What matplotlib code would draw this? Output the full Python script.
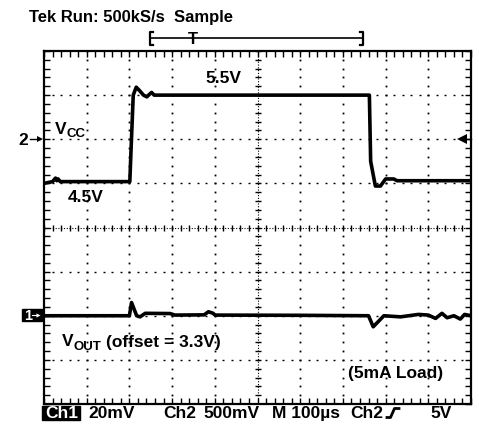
import numpy as np
import matplotlib.pyplot as plt
from matplotlib.lines import Line2D
from matplotlib.patches import Rectangle

plt.rcParams['font.family'] = ['Liberation Sans', 'DejaVu Sans']
plt.rcParams['font.weight'] = 'bold'

# scope settings
T_DIV = 100.0      # us / div
VCC_DIV = 0.5      # V / div (Ch2)
VOUT_DIV = 20.0    # mV / div (Ch1)
VCC_REF = 4.5      # level sitting on +1 div
VCC_POS = 1.0
VOUT_POS = -2.0    # Ch1 marker position (div)

# Ch2: Vcc step 4.5V -> 5.5V -> 4.5V
vcc_t = [0, 20, 27, 30, 33, 38, 201, 204, 209, 216, 224, 233, 241, 247, 252, 258,
         762, 765, 776, 788, 800, 819, 827, 1000]
vcc_v = [4.50, 4.52, 4.56, 4.53, 4.55, 4.52, 4.52, 4.90, 5.50, 5.59, 5.55, 5.50, 5.48, 5.51, 5.53, 5.50,
         5.50, 4.75, 4.47, 4.47, 4.55, 4.55, 4.53, 4.53]

# Ch1: Vout deviation from 3.3V offset, mV
vout_t = [0, 200, 205, 217, 225, 237, 295, 307, 375, 385, 395, 401, 600, 760, 771, 796,
          835, 877, 900, 917, 932, 944, 960, 975, 985, 1000]
vout_mv = [0, 0, 6.0, 0, -0.5, 1.1, 1.0, 0.3, 0.4, 1.8, 1.2, 0.3, 0.2, 0, -5.0, 0,
           -0.5, 0.6, 0.3, -1.2, 1.1, -0.9, 0, -1.5, 0.6, 0]

W, H = 479, 425


def fx(x):
    return x / W


def fy(y):
    return 1 - y / H


fig = plt.figure(figsize=(W / 100, H / 100), dpi=100)
ax = fig.add_axes([fx(44), fy(404), 427 / W, 353 / H])
ax.set_xlim(0, 10)
ax.set_ylim(-4, 4)
for s in ax.spines.values():
    s.set_linewidth(1.6)
ax.set_xticks(np.arange(0, 10.001, 0.2))
ax.set_yticks(np.arange(-4, 4.001, 0.2))
ax.tick_params(direction='in', length=4, width=1, top=True, right=True,
               labelbottom=False, labelleft=False)

# graticule
xs = np.arange(0, 10.001, 0.2)
ys = np.arange(-4, 4.001, 0.2)
for gx in [1, 2, 3, 4, 6, 7, 8, 9]:
    ax.plot([gx] * len(ys), ys, 's', ms=1.3, mew=0, color='k')
for gy in [-3, -2, -1, 1, 2, 3]:
    ax.plot(xs, [gy] * len(xs), '_', ms=2, mew=1, color='k')
ax.axvline(5, ls=(0, (1, 1.5)), lw=0.8, color='k')
ax.axhline(0, ls=(0, (1, 1.5)), lw=0.8, color='k')
ax.plot([5] * len(ys), ys, '_', ms=4.5, mew=1, color='k')
ax.plot(xs, [0] * len(xs), '|', ms=4.5, mew=1, color='k')

# traces
t1 = np.array(vcc_t) / T_DIV
y1 = VCC_POS + (np.array(vcc_v) - VCC_REF) / VCC_DIV
ax.plot(t1, y1, color='k', lw=2.6, solid_joinstyle='round')
t2 = np.array(vout_t) / T_DIV
y2 = VOUT_POS + np.array(vout_mv) / VOUT_DIV
ax.plot(t2, y2, color='k', lw=2.6, solid_joinstyle='round')


def label(x, y, s, size=12.5, color='k'):
    fig.text(fx(x), fy(y), s, ha='left', va='baseline', fontsize=size,
             fontweight='bold', color=color)


label(29, 22, 'Tek Run: 500kS/s  Sample', 12)
label(205, 83, '5.5V')
label(55, 133.5, 'V')
label(66.5, 137, 'CC', 9.5)
label(68, 201.5, '4.5V')
label(61.5, 346.5, 'V')
label(74, 350, 'OUT', 9.5)
label(106, 346.5, '(offset = 3.3V)')
label(348, 378, '(5mA Load)')

# channel 2 marker on the left and trigger level on the right
label(18, 144.5, '2')
fig.add_artist(Line2D([fx(30), fx(40)], [fy(139)] * 2, lw=1, color='k'))
fig.add_artist(Line2D([fx(40)], [fy(139)], marker='>', ms=5, color='k', mew=0))
fig.add_artist(Line2D([fx(461), fx(471)], [fy(139)] * 2, lw=1, color='k'))
fig.add_artist(Line2D([fx(462)], [fy(139)], marker='<', ms=7, color='k', mew=0))

# channel 1 marker
fig.add_artist(Rectangle((fx(22), fy(321)), 20 / W, 12 / H, color='k'))
label(24, 319.5, '1', 10.5, 'w')
fig.add_artist(Line2D([fx(32), fx(38)], [fy(315)] * 2, lw=0.8, color='w'))
fig.add_artist(Line2D([fx(38)], [fy(315)], marker='>', ms=3, color='w', mew=0))

# record bracket and trigger point
fig.add_artist(Line2D([fx(150), fx(363)], [fy(38.3)] * 2, lw=1.2, color='k'))
fig.add_artist(Line2D([fx(153), fx(150), fx(150), fx(153)],
                      [fy(32), fy(32), fy(45), fy(45)], lw=1.6, color='k'))
fig.add_artist(Line2D([fx(360), fx(363), fx(363), fx(360)],
                      [fy(32), fy(32), fy(45), fy(45)], lw=1.6, color='k'))
fig.text(fx(193), fy(43.5), 'T', ha='center', va='baseline', fontsize=12,
         fontweight='bold')

# status bar
fig.add_artist(Rectangle((fx(42), fy(420)), 38 / W, 14 / H, color='k'))
label(45, 418, 'Ch1', 12.5, 'w')
label(88, 418, '20mV', 12.5)
label(163, 418, 'Ch2', 12.5)
label(203, 418, '500mV', 12.5)
label(272, 418, 'M 100µs', 12.5)
label(350, 418, 'Ch2', 12.5)
fig.add_artist(Line2D([fx(387), fx(390.5), fx(394.5), fx(399)],
                      [fy(417.5), fy(417.5), fy(408.5), fy(408.5)],
                      lw=2, color='k', solid_joinstyle='round'))
label(430, 418, '5V', 12.5)

fig.savefig('out.png', dpi=100)
